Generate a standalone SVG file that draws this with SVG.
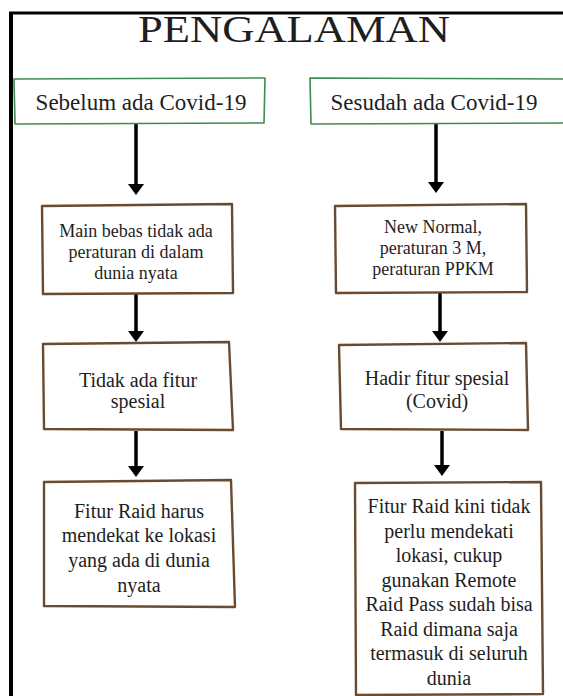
<svg xmlns="http://www.w3.org/2000/svg" width="563" height="696" viewBox="0 0 563 696">
<style>
  .t { font-family: "Liberation Serif", "Times New Roman", serif; fill: #1e1e1e; text-anchor: middle; }
  .g { fill: #ffffff; stroke: #3f8a4e; stroke-width: 1.6; stroke-linejoin: round; }
  .b { fill: #ffffff; stroke: #6b4b30; stroke-width: 2.4; stroke-linejoin: round; }
  .c { stroke: #000000; stroke-width: 3.5; fill: none; }
</style>
<defs>
  <marker id="ah" markerUnits="userSpaceOnUse" markerWidth="12" markerHeight="16" refX="6" refY="8" orient="auto">
    <path d="M0,0 L11,8 L0,16 Z" fill="#000000"/>
  </marker>
</defs>
<rect width="563" height="696" fill="#ffffff"/>
<g id="frame">
  <line x1="11" y1="12" x2="11" y2="696" stroke="#000" stroke-width="4"/>
  <line x1="9" y1="13" x2="563" y2="13" stroke="#000" stroke-width="3"/>
</g>
<g id="title">
  <text class="t" x="138" y="42" font-size="38" textLength="312" lengthAdjust="spacingAndGlyphs" style="text-anchor:start">PENGALAMAN</text>
</g>
<g id="connectors">
  <line class="c" x1="136" y1="123" x2="136" y2="190" marker-end="url(#ah)"/>
  <line class="c" x1="136" y1="294" x2="136" y2="337" marker-end="url(#ah)"/>
  <line class="c" x1="136" y1="431" x2="136" y2="472" marker-end="url(#ah)"/>
  <line class="c" x1="436" y1="123" x2="436" y2="188" marker-end="url(#ah)"/>
  <line class="c" x1="440" y1="293" x2="440" y2="337" marker-end="url(#ah)"/>
  <line class="c" x1="442" y1="431" x2="442" y2="471" marker-end="url(#ah)"/>
</g>
<g id="sebelum">
  <path class="g" d="M14,79 L265,78 L264,123 L15,124 Z"/>
  <text class="t" x="141" y="110" font-size="23">Sebelum ada Covid-19</text>
</g>
<g id="sesudah">
  <path class="g" d="M310,78 L566,79 L566,123 L311,124 Z"/>
  <text class="t" x="434" y="110" font-size="23">Sesudah ada Covid-19</text>
</g>
<g id="main-bebas">
  <path class="b" d="M42,206 L232,204 L233,293 L43,294 Z"/>
  <text class="t" font-size="18"><tspan x="136" y="237">Main bebas tidak ada</tspan><tspan x="136" y="258">peraturan di dalam</tspan><tspan x="136" y="279">dunia nyata</tspan></text>
</g>
<g id="new-normal">
  <path class="b" d="M335,206 L526,204 L527,292 L336,293 Z"/>
  <text class="t" font-size="18"><tspan x="433" y="233">New Normal,</tspan><tspan x="433" y="254">peraturan 3 M,</tspan><tspan x="433" y="275">peraturan PPKM</tspan></text>
</g>
<g id="tidak-ada">
  <path class="b" d="M43,344 L229,342 L233,430 L44,429 Z"/>
  <text class="t" font-size="20"><tspan x="138" y="387">Tidak ada fitur</tspan><tspan x="138" y="408">spesial</tspan></text>
</g>
<g id="hadir">
  <path class="b" d="M339,345 L526,343 L528,430 L341,429 Z"/>
  <text class="t" font-size="20"><tspan x="437" y="385">Hadir fitur spesial</tspan><tspan x="437" y="408">(Covid)</tspan></text>
</g>
<g id="fitur-raid-harus">
  <path class="b" d="M44,482 L231,480 L235,607 L44,606 Z"/>
  <text class="t" font-size="20"><tspan x="139" y="518">Fitur Raid harus</tspan><tspan x="139" y="542">mendekat ke lokasi</tspan><tspan x="139" y="567">yang ada di dunia</tspan><tspan x="139" y="592">nyata</tspan></text>
</g>
<g id="fitur-raid-kini">
  <path class="b" d="M355,483 L541,482 L543,694 L356,695 Z"/>
  <text class="t" font-size="20"><tspan x="449" y="513">Fitur Raid kini tidak</tspan><tspan x="449" y="537.5">perlu mendekati</tspan><tspan x="449" y="562">lokasi, cukup</tspan><tspan x="449" y="586.5">gunakan Remote</tspan><tspan x="449" y="611">Raid Pass sudah bisa</tspan><tspan x="449" y="635.5">Raid dimana saja</tspan><tspan x="449" y="660">termasuk di seluruh</tspan><tspan x="449" y="684.5">dunia</tspan></text>
</g>
</svg>
